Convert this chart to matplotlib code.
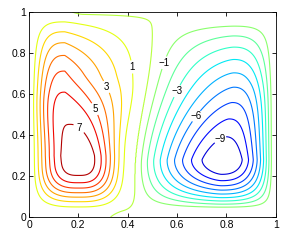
import numpy as np
import matplotlib
matplotlib.use('Agg')
import matplotlib.pyplot as plt

# values
levels = [-9, -8, -7, -6, -5, -4, -3, -2, -1, 0, 1, 2, 3, 4, 5, 6, 7]
left_peak = 7.7          # max of the left (positive) cell
left_center = (0.20, 0.30)
left_lean = -0.055       # tip of the left cell leans to the upper left
right_peak = -10.1       # min of the right (negative) cell
right_center = (0.78, 0.28)
right_lean = 0.05        # tip of the right cell leans to the upper right
divide_bottom, divide_top = 0.43, 0.50   # zero line between the cells
right_walls = (0.99, 0.035, 0.965)       # right, bottom, top
top_zero_from, bottom_zero_from = 0.17, 0.33
label_values = [1, 3, 5, 7, -1, -3, -6, -9]
label_spots = [(0.40, 0.73), (0.305, 0.63), (0.255, 0.52), (0.20, 0.43),
               (0.555, 0.75), (0.59, 0.62), (0.67, 0.50), (0.78, 0.37)]
ticks = [0, 0.2, 0.4, 0.6, 0.8, 1]
tick_labels = ['0', '0.2', '0.4', '0.6', '0.8', '1']

plt.rcParams['font.family'] = ['Liberation Sans', 'DejaVu Sans']


def prof(s, a, b, w=1.0):
    s = np.clip(s, 0, 1)
    return w * (1 - (1 - s ** a) ** b) + (1 - w) * s


def side(t, c, lo, hi, lo_ab, hi_ab):
    below = prof((t - lo) / (c - lo), *lo_ab)
    above = prof((hi - t) / (hi - c), *hi_ab)
    return np.where(t < c, below, above)


def ramp(u):
    u = np.clip(u, 0, 1)
    return u * u * (3 - 2 * u)


x = np.linspace(0.0005, 0.9995, 601)
y = np.linspace(0.0005, 0.9995, 601)
X, Y = np.meshgrid(x, y)

xd = divide_bottom + (divide_top - divide_bottom) * ramp((Y - 0.2) / 0.7)

# left cell
up = ramp((Y - 0.3) / 0.4)
xcl = left_center[0] + left_lean * ramp((Y - 0.25) / 0.35)
psi_l = left_peak * side(X, xcl, 0, xd, (1.4, 3), (2 - up, 3.4 - 2.4 * up)) \
    * side(Y, left_center[1], 0, 1, (1.8, 3.5), (1.1, 3.5, 0.6))
psi_l[X > xd] = 0

# right cell
r, b, t = right_walls
xcr = right_center[0] + right_lean * ramp((Y - 0.25) / 0.4)
psi_r = right_peak * side(X, xcr, xd, r, (1, 1.5), (1, 2.4)) \
    * side(Y, right_center[1], b, t, (1, 1.8), (0.8, 1.1))
psi_r[(X < xd) | (X > r) | (Y < b) | (Y > t)] = 0

# weak negative film along the top, bottom and right walls
film = 0.3 * np.exp(-(1 - Y) / 0.02) * ramp((X - top_zero_from) / 0.05) \
    + 0.3 * np.exp(-Y / 0.02) * ramp((X - bottom_zero_from) / 0.05) \
    + 0.3 * np.exp(-(1 - X) / 0.02)
Z = psi_l + psi_r - film

fig = plt.figure(figsize=(2.91, 2.42), dpi=100)
ax = fig.add_axes([0.0997, 0.103, 0.848, 0.847])
cs = ax.contour(X, Y, Z, levels=levels, cmap='jet', vmin=-10.5, vmax=7.8,
                linewidths=0.8)
cs.clabel(manual=[], fmt=lambda v: ('%d' % v).replace('-', '\u2212'),
          fontsize=7, colors='k')
for v, (px, py) in zip(label_values, label_spots):
    cs.labelIndiceList = [levels.index(v)]
    cs.add_label_near(px, py, inline=True, inline_spacing=1)
for txt in cs.labelTexts:
    txt.set_rotation(0)

ax.set_xlim(0, 1)
ax.set_ylim(0, 1)
ax.set_xticks(ticks)
ax.set_xticklabels(tick_labels)
ax.set_yticks(ticks)
ax.set_yticklabels(tick_labels)
ax.tick_params(direction='in', length=3, width=0.6, labelsize=7.5, pad=2,
               top=True, right=True)
for s in ax.spines.values():
    s.set_linewidth(0.6)

fig.savefig('out.png', dpi=100)
